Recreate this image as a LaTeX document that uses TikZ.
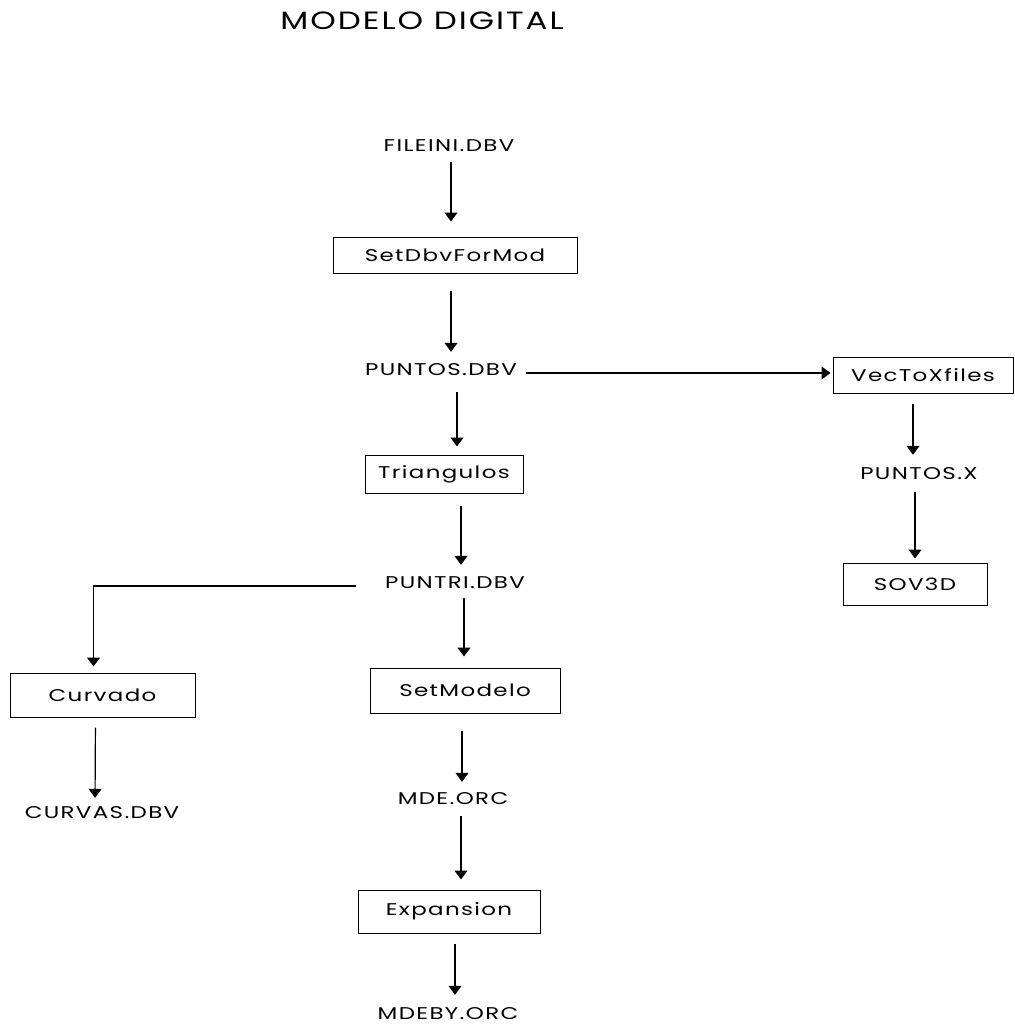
\documentclass[tikz,border=0pt]{standalone}
\usepackage{fontspec}
\setmainfont{Poppins}[FakeStretch=1.35, LetterSpace=8]
\newfontfamily\headfont{Poppins}[FakeStretch=1.3, LetterSpace=8]
\usepackage{tikz}
\usetikzlibrary{arrows.meta, positioning, calc}

\begin{document}
\begin{tikzpicture}[x=1pt, y=-1pt, every node/.style={font=\fontsize{17}{20}\selectfont}]
		\tikzstyle{prog}=[draw=black, line width=1pt, minimum height=38pt, minimum width=160pt, inner sep=0pt, text=black]
		\tikzstyle{dbf}=[draw=none, inner sep=0pt, text height=12pt, text depth=0pt, text=black]
		\tikzstyle{flow}=[draw=black, line width=1.2pt, -{Triangle[width=13pt,length=9pt]}, shorten <=12pt, shorten >=11pt]
		
		\useasboundingbox (0,0) rectangle (1014,1027);
		
		\node[draw=none, font=\headfont\fontsize{25}{29}\selectfont] (T0) at (422,21) {MODELO DIGITAL};
		
		%% main column
		\node [dbf] (F1) at (449,146) {FILEINI.DBV};
		\node [prog, minimum width=244pt, minimum height=36pt] (P1) at (455,255) {SetDbvForMod};
		\node [dbf] (F2) at (441,369) {PUNTOS.DBV};
		\node [prog, minimum width=158pt] (P4) at (444,474) {Triangulos};
		\node [dbf] (F4) at (455,582) {PUNTRI.DBV};
		\node [prog, minimum width=190pt, minimum height=45pt] (P6) at (465,690.5) {SetModelo};
		\node [dbf] (F6) at (453,798) {MDE.ORC};
		\node [prog, minimum width=182pt, minimum height=43pt] (P7) at (449,911.5) {Expansion};
		\node [dbf] (F7) at (448,1013) {MDEBY.ORC};
		
		%% right branch
		\node [prog, minimum width=180pt, minimum height=36pt] (P2) at (923,375) {VecToXfiles};
		\node [dbf] (F3) at (919,473) {PUNTOS.X};
		\node [prog, minimum width=144pt, minimum height=42pt] (P3) at (915,584) {SOV3D};
		
		%% left branch
		\node [prog, minimum width=185pt, minimum height=44pt] (P5) at (102.5,695) {Curvado};
		\node [dbf] (F5) at (102,812) {CURVAS.DBV};
		
		\draw[flow, shorten <=10pt, shorten >=15pt] ([xshift=2]F1.south) -- ([xshift=-4]P1.north);
		\draw[flow, shorten <=17pt] ([xshift=-4]P1.south) -- ([xshift=10]F2.north);
		\draw[flow, shorten <=9pt, shorten >=2pt] (F2.east |- 0,373) -- (P2.west |- 0,373);
		\draw[flow, shorten <=17pt, shorten >=8pt] ([xshift=16]F2.south) -- ([xshift=13]P4.north);
		\draw[flow] ([xshift=17]P4.south) -- ([xshift=6]F4.north);
		\draw[flow, shorten <=10pt] ([xshift=9]F4.south) -- ([xshift=-1]P6.north);
		\draw[flow, shorten <=17pt, shorten >=10pt] ([xshift=-3]P6.south) -- ([xshift=9]F6.north);
		\draw[flow, shorten >=10pt] ([xshift=8]F6.south) -- ([xshift=12]P7.north);
		\draw[flow, shorten <=10pt, shorten >=12pt] ([xshift=6]P7.south) -- ([xshift=7]F7.north);
		\draw[flow, shorten <=10pt, shorten >=12pt] ([xshift=-10]P2.south) -- ([xshift=-6]F3.north);
		\draw[flow, shorten <=13pt, shorten >=4pt] ([xshift=-4]F3.south) -- (P3.north);
		\draw[flow, shorten <=29pt, shorten >=6pt] ([yshift=-4]F4.west) -| ([xshift=-9]P5.north);
		\draw[flow, shorten <=10pt, shorten >=8pt] ([xshift=-7]P5.south) -- ([xshift=-7]F5.north);
		
\end{tikzpicture}
\end{document}
